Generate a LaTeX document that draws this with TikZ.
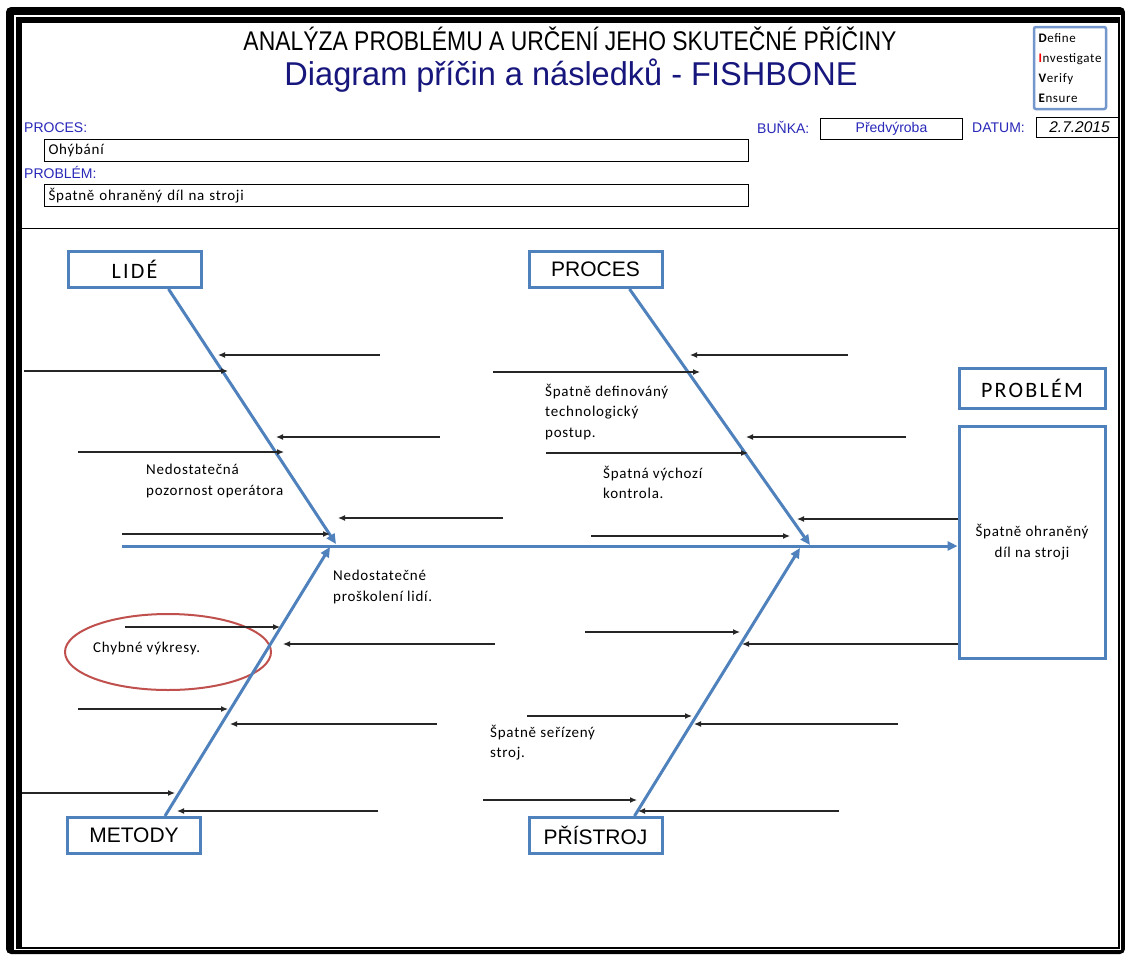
\documentclass[tikz,border=0pt]{standalone}
\usepackage{fontspec}
\usepackage{graphicx}
\setmainfont{Carlito}
\newfontfamily\arialfont{Liberation Sans}
\newfontfamily\notefont{Carlito}[LetterSpace=5]
\newfontfamily\capsfont{Carlito}[LetterSpace=10]
\usetikzlibrary{arrows.meta,positioning,calc,shapes.geometric}
\definecolor{boneblue}{RGB}{79,129,189}
\definecolor{diveblue}{RGB}{115,150,205}
\definecolor{headblue}{RGB}{40,40,185}
\definecolor{titleblue}{RGB}{22,22,125}
\definecolor{ringred}{RGB}{192,80,77}

\begin{document}
\begin{tikzpicture}[
    x=1pt, y=-1pt,
    catbox/.style={draw=boneblue, line width=3pt, fill=white, minimum width=133pt, minimum height=36pt, font=\arialfont\fontsize{21}{24}\selectfont},
    field/.style={draw, line width=1pt, anchor=north west, minimum height=22pt, inner xsep=4pt, inner ysep=0pt},
    lbl/.style={anchor=west, inner sep=0pt, text=headblue, font=\arialfont\fontsize{14}{16}\selectfont},
    note/.style={anchor=north west, inner sep=0pt, align=left, font=\notefont\fontsize{15}{20.5}\selectfont},
    bone/.style={draw=boneblue, line width=3pt, -{Triangle[length=10pt,width=9pt]}},
    cause/.style={draw=black!85, line width=1.2pt, -{Latex[length=7pt,width=6pt]}}
]
    \useasboundingbox (0,0) rectangle (1125,954);

    % Frame
    \fill[black, rounded corners=5pt] (6,7) rectangle (1125,954);
    \fill[white] (14,14.5) rectangle (1121,950);
    \fill[black] (16,16.5) rectangle (1119.5,948.5);
    \fill[white] (22,22.5) rectangle (1118,947);
    \draw[line width=1pt] (22,228) -- (1118,228);

    % Header
    \node[anchor=base, inner sep=0pt, font=\arialfont\fontsize{27}{30}\selectfont] (title) at (570,50)
        {\resizebox{653pt}{\height}{ANALÝZA PROBLÉMU A URČENÍ JEHO SKUTEČNÉ PŘÍČINY}};
    \node[anchor=base, inner sep=0pt, text=titleblue, font=\arialfont\fontsize{33}{36}\selectfont] (subtitle) at (571,85)
        {\resizebox{573pt}{\height}{Diagram příčin a následků - FISHBONE}};
    \node[draw=diveblue, line width=2.5pt, rounded corners=2pt, minimum width=72pt, minimum height=82pt,
          inner sep=0pt, align=left, font=\notefont\fontsize{13}{20.3}\selectfont] (dive) at (1070,68)
        {\textbf{D}efine\\\textcolor{red}{\textbf{I}}nvestigate\\\textbf{V}erify\\\textbf{E}nsure};

    \node[lbl] (proclbl) at (24,128) {PROCES:};
    \node[field, minimum width=704pt, text width=696pt, font=\notefont\fontsize{15}{18}\selectfont] (procfield) at (44,139) {Ohýbání};
    \node[lbl] (problbl) at (24,172) {PROBLÉM:};
    \node[field, minimum width=704pt, text width=696pt, font=\notefont\fontsize{15}{18}\selectfont] (probfield) at (44,184) {Špatně ohraněný díl na stroji};

    \node[lbl] (celllbl) at (757,127) {BUŇKA:};
    \node[field, minimum width=142pt, minimum height=21pt, text=headblue, font=\arialfont\fontsize{14}{16}\selectfont] (cellfield) at (820,118) {Předvýroba};
    \node[lbl] (datelbl) at (972,128) {DATUM:};
    \node[field, minimum width=82pt, minimum height=20pt, font=\arialfont\itshape\fontsize{15.5}{18}\selectfont] (datefield) at (1036,117) {\hspace{4pt}2.7.2015};

    % Category boxes
    \node[catbox, font=\capsfont\fontsize{22}{24}\selectfont] (lide) at (134.5,269.5) {LIDÉ};
    \node[catbox] (proces) at (595.5,269.5) {PROCES};
    \node[catbox] (metody) at (134,835.5) {METODY};
    \node[catbox] (pristroj) at (595.5,835.5) {PŘÍSTROJ};
    \node[catbox, minimum width=146pt, minimum height=232pt, align=center, font=\notefont\fontsize{15}{21}\selectfont] (effect) at (1032,542)
        {Špatně ohraněný\\díl na stroji};
    \node[catbox, minimum width=146pt, minimum height=40pt, font=\capsfont\fontsize{22}{24}\selectfont, above=15pt of effect] (problem) {PROBLÉM};

    % Bones
    \coordinate (tail) at (122,546);
    \coordinate (lidehead) at (336,544);
    \coordinate (proceshead) at (810,545);
    \coordinate (metodyhead) at (330,547);
    \coordinate (pristrojhead) at (800,548);
    \node[draw=ringred, line width=2pt, ellipse, minimum width=206pt, minimum height=76pt] (ring) at (168,652) {};
    \draw[bone] ([xshift=34pt]lide.south) -- (lidehead);
    \draw[bone] ([xshift=34pt]proces.south) -- (proceshead);
    \draw[bone] ([xshift=31pt]metody.north) -- (metodyhead);
    \draw[bone] ([xshift=39pt]pristroj.north) -- (pristrojhead);
    \draw[bone] (tail) -- (tail -| effect.west);

    % Causes
    \foreach \n/\xa/\xb/\y in {1/380/218/355, 2/24/228/371, 3/440/276/437, 4/78/284/452, 5/503/338/518, 6/122/330/534,
        7/848/690/355, 8/493/700/372, 9/906/746/437, 10/546/748/453, 11/958/797/519, 12/591/790/536,
        13/125/280/627, 14/495/283/644, 15/78/228/709, 16/437/230/724, 17/22/175/793, 18/378/177/811,
        19/585/740/632, 20/958/742/644, 21/527/692/716, 22/898/694/724, 23/483/637/800, 24/839/638/811} {
        \coordinate (s\n) at (\xa,\y);
        \coordinate (e\n) at (\xb,\y);
        \draw[cause] (s\n) -- (e\n);
    }

    % Notes
    \node[note] (peoplenote) at (146,464) {Nedostatečná\\pozornost operátora};
    \node[note] (stepsnote) at (545,384) {Špatně definováný\\technologický\\postup.};
    \node[note] (checknote) at (603,466) {Špatná výchozí\\kontrola.};
    \node[note] (trainnote) at (333,570) {Nedostatečné\\proškolení lidí.};
    \node[note] (drawnote) at (93,642) {Chybné výkresy.};
    \node[note] (setupnote) at (490,725) {Špatně seřízený\\stroj.};
\end{tikzpicture}
\end{document}
